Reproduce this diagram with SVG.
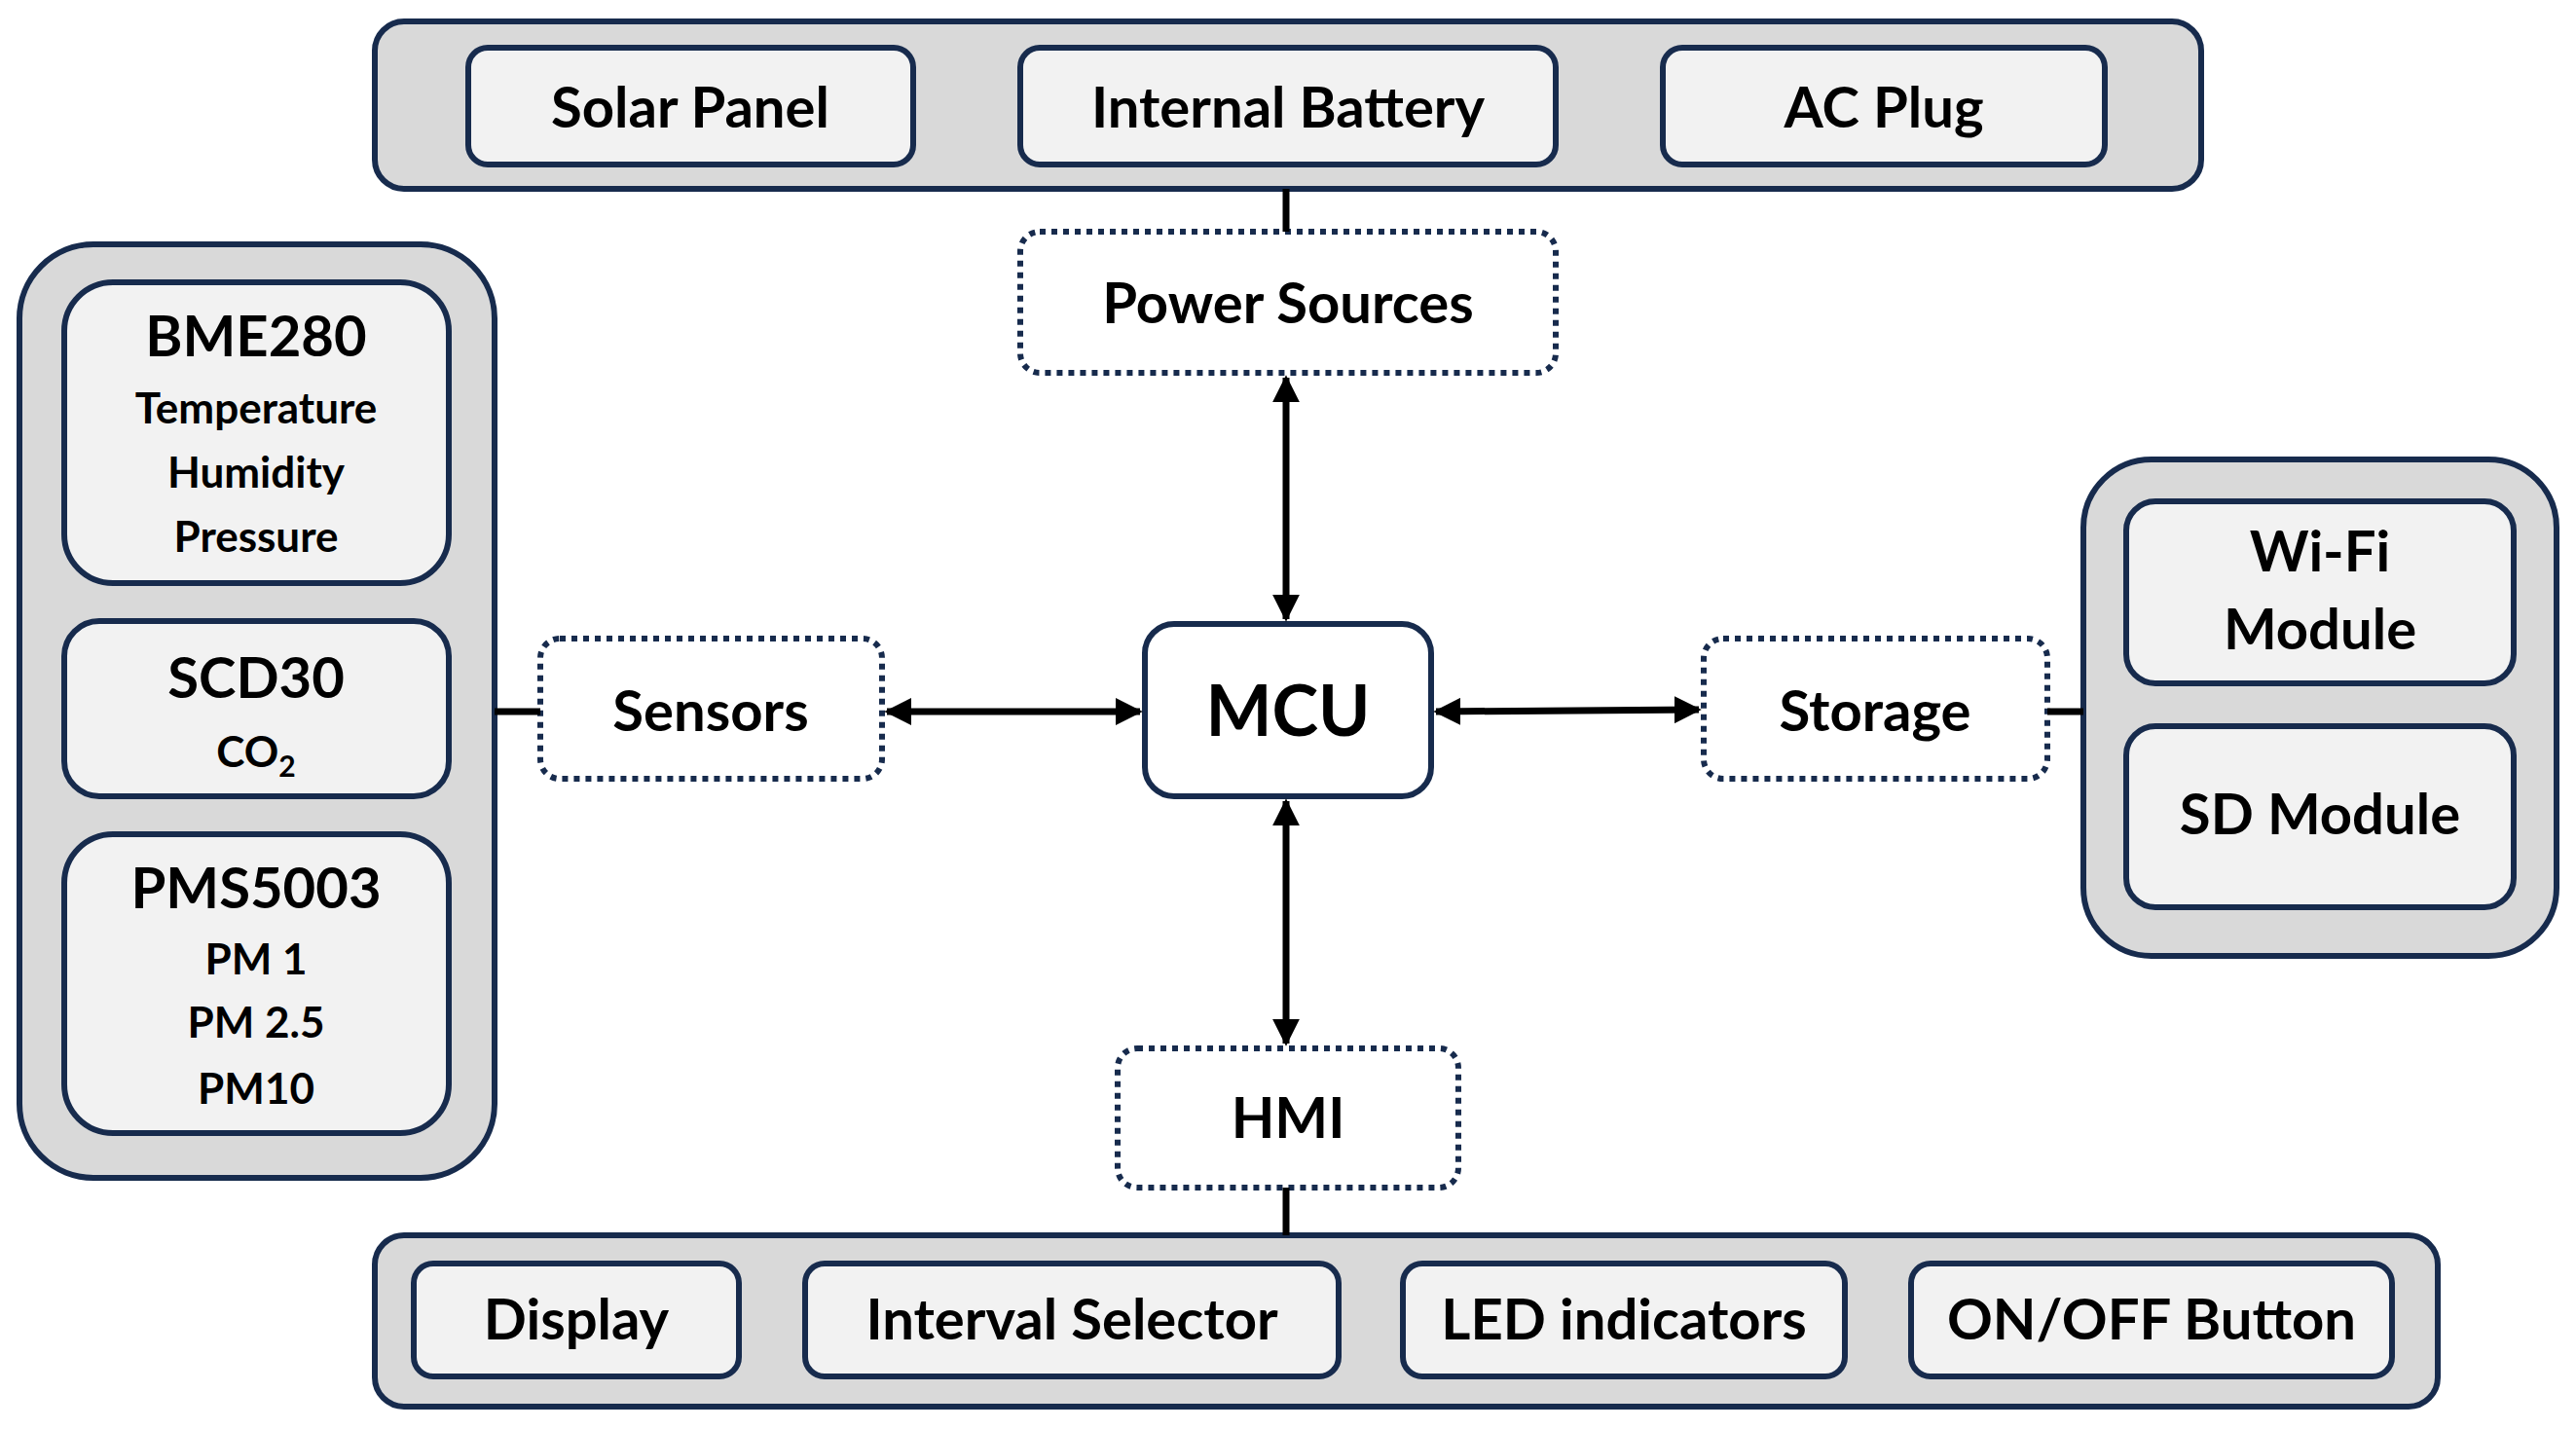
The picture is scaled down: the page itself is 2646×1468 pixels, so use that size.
<svg xmlns="http://www.w3.org/2000/svg" width="2646" height="1468" viewBox="0 0 2646 1468">
<defs>
<style>
.c{fill:#d9d9d9;stroke:#172b4d;stroke-width:6}
.b{fill:#f2f2f2;stroke:#172b4d;stroke-width:6}
.d{fill:#fff;stroke:#172b4d;stroke-width:6;stroke-dasharray:6 6}
.m{fill:#fff;stroke:#172b4d;stroke-width:6}
text{font-family:Lato,"Open Sans",sans-serif;font-weight:bold;fill:#000;text-anchor:middle}
.t{font-size:58px}
.s{font-size:44px}
.l{stroke:#000;stroke-width:7;fill:none}
</style>
<marker id="a" viewBox="0 0 10 10" refX="9" refY="5" markerWidth="4" markerHeight="4" orient="auto-start-reverse"><path d="M0,0L10,5L0,10z" fill="#000"/></marker>
</defs>
<g id="power-group"><rect class="c" x="385" y="22" width="1876" height="172" rx="30"/></g>
<g id="solar"><rect class="b" x="481" y="49" width="457" height="120" rx="20"/><text class="t" x="709" y="131">Solar Panel</text></g>
<g id="battery"><rect class="b" x="1048" y="49" width="550" height="120" rx="20"/><text class="t" x="1323" y="131">Internal Battery</text></g>
<g id="ac"><rect class="b" x="1708" y="49" width="454" height="120" rx="20"/><text class="t" x="1935" y="131">AC Plug</text></g>
<g id="power"><rect class="d" x="1048" y="238" width="550" height="145" rx="20"/><text class="t" x="1323" y="332">Power Sources</text></g>
<g id="mcu"><rect class="m" x="1176" y="641" width="294" height="177" rx="30"/><text x="1323" y="756" style="font-size:72px">MCU</text></g>
<g id="sensors"><rect class="d" x="555" y="656" width="351" height="144" rx="20"/><text class="t" x="730" y="751">Sensors</text></g>
<g id="storage"><rect class="d" x="1750" y="656" width="353" height="144" rx="20"/><text class="t" x="1926" y="751">Storage</text></g>
<g id="hmi"><rect class="d" x="1148" y="1077" width="350" height="143" rx="20"/><text class="t" x="1323" y="1169">HMI</text></g>
<g id="sensor-group"><rect class="c" x="20" y="251" width="488" height="959" rx="76"/></g>
<g id="bme280"><rect class="b" x="66" y="290" width="395" height="309" rx="50"/><text class="t" x="263" y="366">BME280</text><text class="s" x="263" y="435">Temperature</text><text class="s" x="263" y="501">Humidity</text><text class="s" x="263" y="567">Pressure</text></g>
<g id="scd30"><rect class="b" x="66" y="638" width="395" height="180" rx="36"/><text class="t" x="263" y="717">SCD30</text><text class="s" x="263" y="788">CO<tspan font-size="30" dy="10">2</tspan></text></g>
<g id="pms5003"><rect class="b" x="66" y="857" width="395" height="307" rx="50"/><text class="t" x="263" y="933">PMS5003</text><text class="s" x="263" y="1001">PM 1</text><text class="s" x="263" y="1066">PM 2.5</text><text class="s" x="263" y="1134">PM10</text></g>
<g id="storage-group"><rect class="c" x="2140" y="472" width="486" height="510" rx="70"/></g>
<g id="wifi"><rect class="b" x="2184" y="515" width="398" height="187" rx="30"/><text class="t" x="2383" y="587">Wi-Fi</text><text class="t" x="2383" y="667">Module</text></g>
<g id="sd"><rect class="b" x="2184" y="746" width="398" height="186" rx="30"/><text class="t" x="2383" y="857">SD Module</text></g>
<g id="hmi-group"><rect class="c" x="385" y="1269" width="2119" height="176" rx="30"/></g>
<g id="display"><rect class="b" x="425" y="1298" width="334" height="116" rx="20"/><text class="t" x="592" y="1376">Display</text></g>
<g id="interval"><rect class="b" x="827" y="1298" width="548" height="116" rx="20"/><text class="t" x="1101" y="1376">Interval Selector</text></g>
<g id="led"><rect class="b" x="1441" y="1298" width="454" height="116" rx="20"/><text class="t" x="1668" y="1376">LED indicators</text></g>
<g id="onoff"><rect class="b" x="1963" y="1298" width="494" height="116" rx="20"/><text class="t" x="2210" y="1376">ON/OFF Button</text></g>
<g id="connectors">
<line class="l" x1="1321" y1="194" x2="1321" y2="238"/>
<line class="l" x1="1321" y1="1220" x2="1321" y2="1269"/>
<line class="l" x1="508" y1="731" x2="555" y2="731"/>
<line class="l" x1="2103" y1="731" x2="2140" y2="731"/>
<line class="l" x1="1321" y1="388" x2="1321" y2="636" marker-start="url(#a)" marker-end="url(#a)"/>
<line class="l" x1="1321" y1="823" x2="1321" y2="1072" marker-start="url(#a)" marker-end="url(#a)"/>
<line class="l" x1="911" y1="731" x2="1171" y2="731" marker-start="url(#a)" marker-end="url(#a)"/>
<line class="l" x1="1475" y1="731" x2="1745" y2="729" marker-start="url(#a)" marker-end="url(#a)"/>
</g>
</svg>
